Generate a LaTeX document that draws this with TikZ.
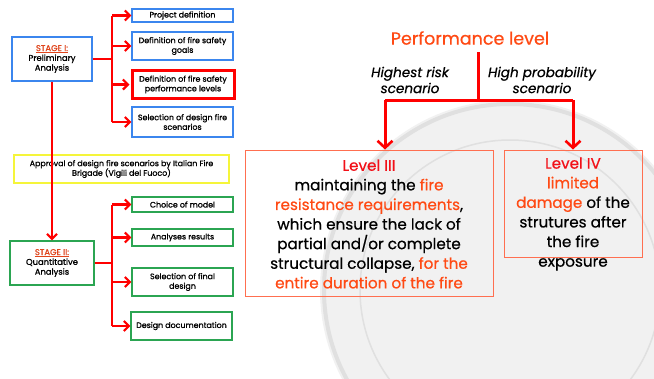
\documentclass[tikz,border=0pt]{standalone}
\usepackage{fontspec}
\setmainfont{Poppins}[FakeBold=0.6]
\newfontfamily\smallfont{Poppins}[FakeBold=1.2]
\usetikzlibrary{arrows.meta}
\definecolor{arrred}{HTML}{FF0000}
\definecolor{hilite}{HTML}{FF4A14}
\definecolor{lvlred}{HTML}{F21018}
\definecolor{lvlbox}{HTML}{FF6F50}
\definecolor{stagec}{HTML}{E0451C}
\definecolor{bluebox}{HTML}{3B86EE}
\definecolor{greenbox}{HTML}{2BA552}
\definecolor{yelbox}{HTML}{F5F53A}
\definecolor{coin}{HTML}{F1F1F1}
\definecolor{coinline}{HTML}{E0E0E0}
\tikzset{
  smallbox/.style={draw, line width=1.2pt, inner sep=1pt, align=center,
    font=\smallfont\fontsize{7.9}{9.6}\selectfont},
  bluestep/.style={smallbox, draw=bluebox},
  greenstep/.style={smallbox, draw=greenbox},
  stagebox/.style={smallbox, font=\smallfont\fontsize{8.4}{9.8}\selectfont},
  arr/.style={draw=arrred, line width=2.6pt, -{Straight Barb[length=5pt,width=10pt,line width=2.2pt]}},
  bigarr/.style={draw=arrred, line width=3pt, -{Straight Barb[length=7pt,width=15pt,line width=2.6pt]}},
  conn/.style={draw=arrred, line width=2.6pt},
  bigconn/.style={draw=arrred, line width=3pt},
  lvlbox/.style={draw=lvlbox, line width=0.9pt, inner sep=0pt},
  lvltext/.style={align=center, font=\fontsize{15.2}{19.6}\selectfont},
  scen/.style={align=center, font=\fontsize{13.6}{16}\selectfont\itshape},
}
\newcommand{\stg}[1]{\textcolor{stagec}{\underline{#1}}}
\begin{document}
\begin{tikzpicture}[x=1pt,y=-1pt]
\useasboundingbox[fill=white] (0,0) rectangle (654,378);
% faint coin in background
\fill[coin] (510,290) circle (190);
\draw[coinline, line width=4pt] (510,290) circle (186);
\draw[coinline, line width=1.5pt] (510,290) circle (150);

% ---------- left: stage I ----------
\node[stagebox, draw=bluebox, minimum width=80pt, minimum height=44pt] (s1) at (52,59)
  {\stg{STAGE I:}\\Preliminary\\Analysis};
\node[bluestep, minimum width=101pt, minimum height=13pt] (pd) at (182.5,15.5) {Project definition};
\node[bluestep, minimum width=101pt, minimum height=28pt] (gl) at (182.5,46) {Definition of fire safety\\goals};
\node[smallbox, draw=arrred, line width=3pt, minimum width=102pt, minimum height=28pt] (pf) at (183,84.5) {Definition of fire safety\\performance levels};
\node[bluestep, minimum width=101pt, minimum height=30pt] (sc) at (182.5,122) {Selection of design fire\\scenarios};

\node[smallbox, draw=yelbox, minimum width=215pt, minimum height=28pt] (ap) at (121.5,169)
  {Approval of design fire scenarios by Italian Fire\\Brigade (Vigili del Fuoco)};

% ---------- left: stage II ----------
\node[stagebox, draw=greenbox, minimum width=84pt, minimum height=44pt] (s2) at (52,263)
  {\stg{STAGE II:}\\Quantitative\\Analysis};
\node[greenstep, minimum width=101pt, minimum height=15pt] (cm) at (182.5,204.5) {Choice of model};
\node[greenstep, minimum width=101pt, minimum height=17pt] (ar) at (182.5,237.5) {Analyses results};
\node[greenstep, minimum width=101pt, minimum height=28pt] (fd) at (182.5,282) {Selection of final\\design};
\node[greenstep, minimum width=101pt, minimum height=28pt] (dd) at (181.5,326) {Design documentation};

% connectors stage I
\coordinate (b1t) at (112,15.5);
\coordinate (b1b) at (112,122);
\draw[conn] (s1.east) -- (s1.east -| b1t);
\draw[conn] (b1t) -- (b1b);
\draw[arr] (b1t) -- (pd.west);
\draw[arr] (b1t |- gl.west) -- (gl.west);
\draw[arr] (b1t |- pf.west) -- ([xshift=-1pt]pf.west);
\draw[arr] (b1b) -- (sc.west);
% stage I -> stage II
\draw[arr] (s1.south) -- (s2.north);
% connectors stage II
\coordinate (b2t) at (112,204.5);
\coordinate (b2b) at (112,326);
\draw[conn] (s2.east) -- (s2.east -| b2t);
\draw[conn] (b2t) -- (b2b);
\draw[arr] (b2t) -- (cm.west);
\draw[arr] (b2t |- ar.west) -- (ar.west);
\draw[arr] (b2t |- fd.west) -- (fd.west);
\draw[arr] (b2b) -- (dd.west);

% ---------- right ----------
\node[text=hilite, font=\fontsize{17.5}{20}\selectfont] (pl) at (470,38) {Performance level};
\node[scen] (hr) at (410,80) {Highest risk\\scenario};
\node[scen] (hp) at (542,80) {High probability\\scenario};

\node[lvlbox, minimum width=248pt, minimum height=146pt] (l3) at (369,223) {};
\node[lvltext] (l3t) at (369,224)
  {\textcolor{lvlred}{Level III}\\
   maintaining the \textcolor{hilite}{fire}\\
   \textcolor{hilite}{resistance requirements},\\
   which ensure the lack of\\
   partial and/or complete\\
   structural collapse, \textcolor{hilite}{for the}\\
   \textcolor{hilite}{entire duration of the fire}};
\node[lvlbox, minimum width=138pt, minimum height=107pt] (l4) at (573,203.5) {};
\node[lvltext] (l4t) at (573,214)
  {\textcolor{lvlred}{Level IV}\\
   \textcolor{hilite}{limited}\\
   \textcolor{hilite}{damage} of the\\
   strutures after\\
   the fire\\
   exposure};

\coordinate (top) at (478,52);
\coordinate (hub) at (478,100);
\coordinate (hl) at (385,100);
\coordinate (hrt) at (573,100);
\draw[bigconn] (top) -- (hub);
\draw[bigconn] (hl) -- (hrt);
\draw[bigarr] (hl) -- (hl |- l3.north);
\draw[bigarr] (hrt) -- (l4.north);
\end{tikzpicture}
\end{document}
